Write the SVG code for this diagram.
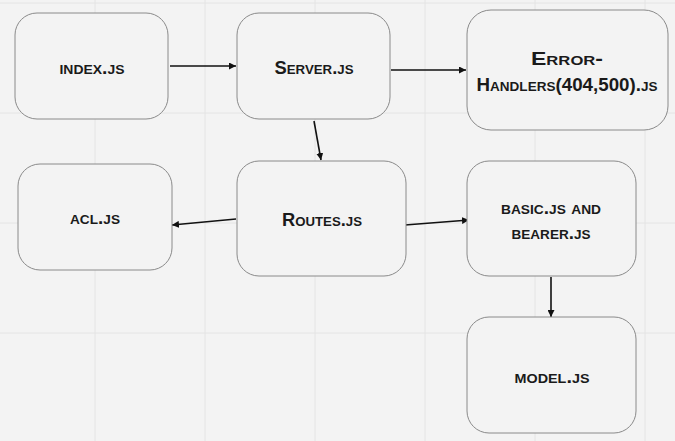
<svg xmlns="http://www.w3.org/2000/svg" width="675" height="441" viewBox="0 0 675 441">
<defs>
<style>
.bg{fill:#f3f3f3}
.grid{stroke:#e4e4e4;stroke-width:1}
.box{fill:#f3f3f3;stroke:#8a8a8a;stroke-width:1}
.lbl{font-family:"Liberation Sans",Arial,sans-serif;font-weight:bold;font-variant:small-caps;font-size:18px;fill:#1a1a1a;text-anchor:middle;dominant-baseline:middle}
.edge{stroke:#111;stroke-width:1.6;fill:none;marker-end:url(#ah)}
</style>
<marker id="ah" viewBox="0 0 10 10" refX="10" refY="5" markerWidth="7" markerHeight="7" markerUnits="userSpaceOnUse" orient="auto">
<path d="M0,0 L10,5 L0,10 z" fill="#111"/>
</marker>
</defs>
<rect class="bg" x="0" y="0" width="675" height="441"/>
<g id="grid">
<line class="grid" x1="95" y1="0" x2="95" y2="441"/>
<line class="grid" x1="205" y1="0" x2="205" y2="441"/>
<line class="grid" x1="315" y1="0" x2="315" y2="441"/>
<line class="grid" x1="425" y1="0" x2="425" y2="441"/>
<line class="grid" x1="535" y1="0" x2="535" y2="441"/>
<line class="grid" x1="645" y1="0" x2="645" y2="441"/>
<line class="grid" x1="0" y1="3" x2="675" y2="3"/>
<line class="grid" x1="0" y1="113" x2="675" y2="113"/>
<line class="grid" x1="0" y1="223" x2="675" y2="223"/>
<line class="grid" x1="0" y1="333" x2="675" y2="333"/>
</g>
<g id="edges">
<line class="edge" x1="170" y1="66" x2="236" y2="66"/>
<line class="edge" x1="391" y1="70" x2="466" y2="70"/>
<line class="edge" x1="314" y1="121" x2="321" y2="160"/>
<line class="edge" x1="236" y1="219" x2="172" y2="225"/>
<line class="edge" x1="405" y1="225" x2="469" y2="220"/>
<line class="edge" x1="551" y1="277" x2="551" y2="317"/>
</g>
<g id="n-index">
<rect class="box" x="15" y="13" width="153" height="106" rx="22"/>
<text class="lbl" x="92" y="69" textLength="65" lengthAdjust="spacingAndGlyphs">index.js</text>
</g>
<g id="n-server">
<rect class="box" x="237" y="13" width="153" height="106" rx="22"/>
<text class="lbl" x="314" y="69" textLength="79" lengthAdjust="spacingAndGlyphs">Server.js</text>
</g>
<g id="n-error">
<rect class="box" x="467" y="10" width="201" height="120" rx="24"/>
<text class="lbl" x="567" y="60" textLength="72" lengthAdjust="spacingAndGlyphs">Error-</text>
<text class="lbl" x="567" y="86" textLength="181" lengthAdjust="spacingAndGlyphs">Handlers(404,500).js</text>
</g>
<g id="n-acl">
<rect class="box" x="18" y="164" width="154" height="106" rx="22"/>
<text class="lbl" x="95" y="219" textLength="50" lengthAdjust="spacingAndGlyphs">acl.js</text>
</g>
<g id="n-routes">
<rect class="box" x="237" y="161" width="169" height="115" rx="22"/>
<text class="lbl" x="322" y="221" textLength="80" lengthAdjust="spacingAndGlyphs">Routes.js</text>
</g>
<g id="n-basic">
<rect class="box" x="467" y="161" width="169" height="115" rx="22"/>
<text class="lbl" x="551" y="209" textLength="100" lengthAdjust="spacingAndGlyphs">basic.js and</text>
<text class="lbl" x="551" y="234" textLength="79" lengthAdjust="spacingAndGlyphs">bearer.js</text>
</g>
<g id="n-model">
<rect class="box" x="467" y="317" width="169" height="116" rx="22"/>
<text class="lbl" x="552" y="378" textLength="75" lengthAdjust="spacingAndGlyphs">model.js</text>
</g>
</svg>
